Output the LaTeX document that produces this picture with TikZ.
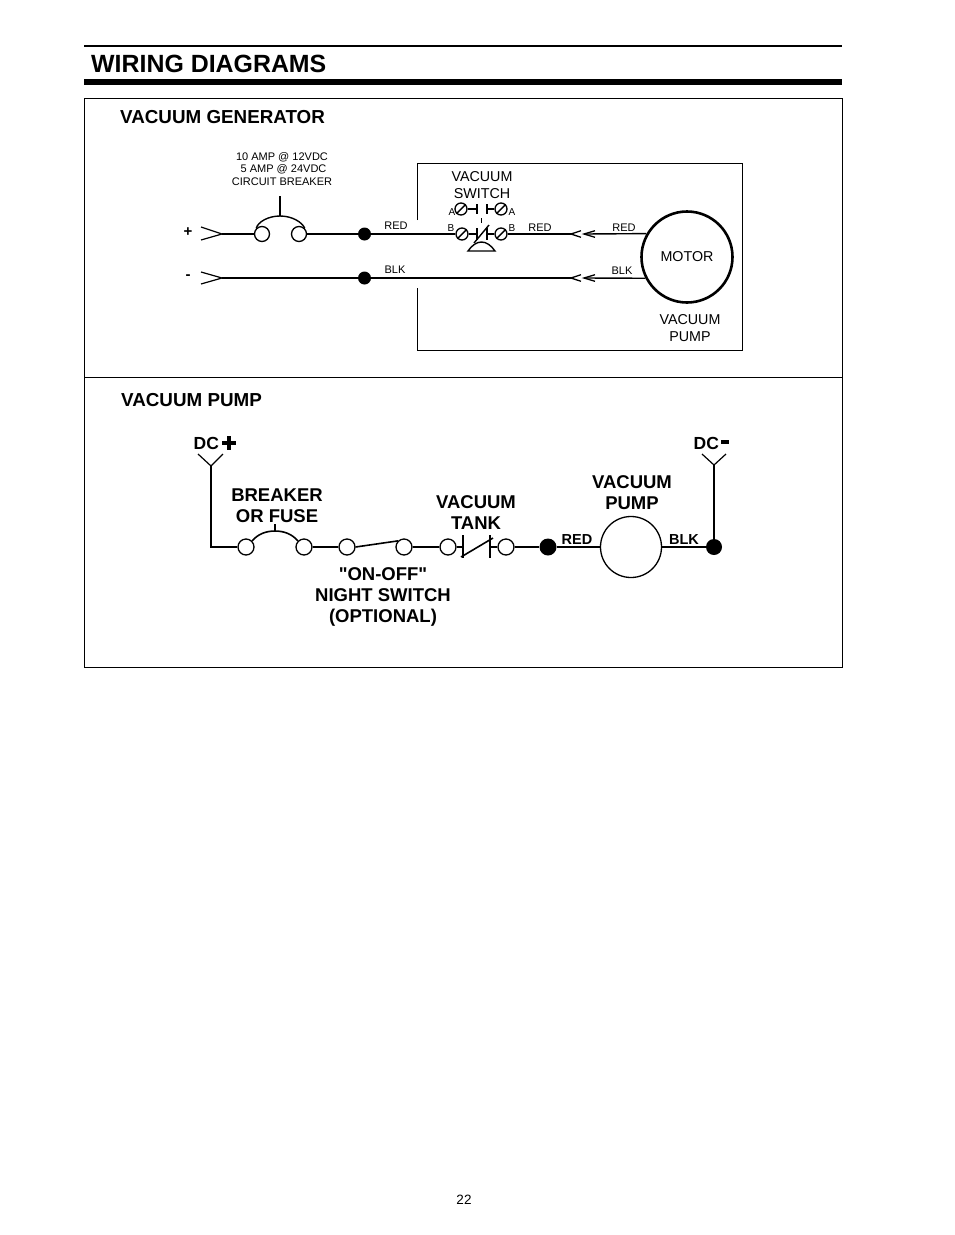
\documentclass[tikz,border=0pt]{standalone}
\usepackage{fontspec}
\setmainfont{Liberation Sans}
\usetikzlibrary{positioning}
\tikzset{
	terminal/.style={circle, draw, fill=white, inner sep=0pt, minimum size=15pt, line width=1.3pt},
	screwterm/.style={circle, draw, fill=white, inner sep=0pt, minimum size=12pt, line width=1.3pt},
	junction/.style={circle, fill=black, inner sep=0pt, minimum size=#1},
	smalltext/.style={font=\fontsize{11}{12.6}\selectfont, align=center, inner sep=0pt},
	midtext/.style={font=\fontsize{14.3}{17}\selectfont, align=center, inner sep=0pt},
	headtext/.style={font=\bfseries\fontsize{18.8}{21}\selectfont, inner sep=0pt, anchor=west},
	boldtext/.style={font=\bfseries\fontsize{18.5}{21}\selectfont, align=center, inner sep=0pt},
	wire/.style={line width=1.4pt}
}

\begin{document}
\begin{tikzpicture}[x=1pt, y=-1pt]
	\useasboundingbox (0,0) rectangle (954,1235);

	% page heading
	\begin{scope}
		\draw [line width=1.5pt] (84,46) -- (842,46);
		\fill (84,79) rectangle (842,85);
		\node (title) [anchor=west, inner sep=0pt, font=\bfseries\fontsize{24.9}{28}\selectfont] at (91,63.5) {WIRING DIAGRAMS};
		\draw [line width=1pt] (84.5,98) rectangle (842.5,667.5);
		\draw [line width=1pt] (84.5,377.5) -- (842.5,377.5);
		\node (pagenum) [inner sep=0pt, font=\fontsize{13.5}{15}\selectfont] at (464,1199.5) {22};
	\end{scope}

	% vacuum generator
	\node (genhead) [headtext] at (120,117) {VACUUM GENERATOR};
	\node (cbtext) [smalltext] at (282,169) {10 AMP @ 12VDC\\ \;5 AMP @ 24VDC\\CIRCUIT BREAKER};
	\node (plus) [inner sep=0pt, font=\bfseries\fontsize{15}{16}\selectfont] at (188,232) {+};
	\node (minus) [inner sep=0pt, font=\bfseries\fontsize{15}{16}\selectfont] at (188,277) {-};

	\coordinate (plusin) at (222,234);
	\coordinate (minusin) at (222,278);
	\draw [line width=1.2pt] (201,227) -- (plusin) -- (201,240);
	\draw [line width=1.2pt] (201,272) -- (minusin) -- (201,284);

	\node (cbleft) [terminal] at (262,234) {};
	\node (cbright) [terminal] at (299,234) {};
	\node (redjoint) [junction=13pt] at (364.5,234) {};
	\node (blkjoint) [junction=13pt] at (364.5,278) {};
	\coordinate (cbtop) at (280,216);
	\coordinate (cbstem) at (280,196);
	\draw [wire] (cbleft.north west) .. controls (258,222) and (268,216) .. (cbtop)
		.. controls (292,216) and (302,222) .. (cbright.north east);
	\draw [wire] (cbtop) -- (cbstem);
	\draw [wire] (plusin) -- (cbleft);
	\draw [wire] (cbright) -- (redjoint);
	\draw [wire] (minusin) -- (blkjoint);

	% pump housing
	\draw [line width=1pt] (417,220) -- (417,163) -- (742,163) -- (742,350) -- (417,350) -- (417,288);

	% vacuum switch
	\node (swtext) [midtext] at (482,185) {VACUUM\\SWITCH};
	\foreach \name/\xx/\yy in {termAl/461/209, termAr/501/209, termBl/462/234, termBr/501/234}
	{
		\node (\name) [screwterm] at (\xx,\yy) {};
		\draw [wire] (\name.south west) -- (\name.north east);
	}
	\coordinate (stubAl) at (477,209);
	\coordinate (stubAr) at (487,209);
	\draw [wire] (termAl) -- (stubAl);
	\draw [wire] (termAr) -- (stubAr);
	\draw [wire] (477,204) -- (477,214);
	\draw [wire] (487,204) -- (487,214);
	\draw [wire] (481.5,218) -- (481.5,223);
	\coordinate (stubBl) at (477,234);
	\coordinate (stubBr) at (487,234);
	\draw [wire] (termBl) -- (stubBl);
	\draw [wire] (termBr) -- (stubBr);
	\draw [wire] (477,228) -- (477,240);
	\draw [wire] (487,228) -- (487,240);
	\draw [wire] (474,243) -- (489,225);
	\draw [wire, fill=white] (468,251) .. controls (472,245) and (477,242) .. (481.5,242)
		.. controls (486,242) and (491,245) .. (495,251) -- cycle;
	\foreach \name/\xx/\yy/\txt in {lblAl/452/212/A, lblAr/512/212/A, lblBl/451/228/B, lblBr/512/228/B}
	{
		\node (\name) [inner sep=0pt, font=\fontsize{10}{11}\selectfont] at (\xx,\yy) {\txt};
	}

	% motor and plugs
	\node (motor) [circle, draw, inner sep=0pt, minimum size=91pt, line width=2.6pt, midtext] at (687,257) {MOTOR};
	\node (pumptext) [midtext] at (690,328) {VACUUM\\PUMP};
	\foreach \yy/\name in {234/red, 278/blk}
	{
		\coordinate (\name plugl) at (571,\yy);
		\coordinate (\name plugr) at (584,\yy);
		\draw [line width=1.3pt] (581,\yy-3.3) -- (\name plugl) -- (581,\yy+3.3);
		\draw [line width=1.3pt] (595,\yy-3.3) -- (\name plugr) -- (595,\yy+3.3);
	}
	\draw [wire] (redjoint) -- (termBl);
	\draw [wire] (termBr) -- (redplugl);
	\draw [wire] (redplugr) -- (motor.150);
	\draw [wire] (blkjoint) -- (blkplugl);
	\draw [wire] (blkplugr) -- (motor.207);
	\foreach \name/\xx/\yy/\txt in {lblred/396/226/RED, lblredb/540/228/RED, lblredc/624/228/RED, lblblk/395/270/BLK, lblblkb/622/271/BLK}
	{
		\node (\name) [smalltext] at (\xx,\yy) {\txt};
	}

	% vacuum pump
	\node (pumphead) [headtext] at (121,400) {VACUUM PUMP};
	\node (dcplus) [inner sep=0pt, anchor=west, font=\bfseries\fontsize{17.5}{20}\selectfont] at (193.5,443) {DC};
	\node (dcminus) [inner sep=0pt, anchor=west, font=\bfseries\fontsize{17.5}{20}\selectfont] at (693.5,443) {DC};
	\draw [line width=3.2pt] (222,443) -- (236,443);
	\draw [line width=3.2pt] (229,436) -- (229,450);
	\draw [line width=3.2pt] (721,442) -- (729,442);

	\coordinate (plusfork) at (211,466);
	\coordinate (minusfork) at (714,465);
	\coordinate (pluscorner) at (211,547);
	\draw [line width=1.2pt] (198,454) -- (plusfork) -- (223,454);
	\draw [line width=1.2pt] (702,454) -- (minusfork) -- (726,454);

	\foreach \name/\xx in {brkl/246, brkr/304, nsl/347, nsr/404, tankl/448, tankr/506}
	{
		\node (\name) [terminal, minimum size=16pt] at (\xx,547) {};
	}
	\node (redpump) [junction=17pt] at (548,547) {};
	\node (pump) [circle, draw, inner sep=0pt, minimum size=61pt, line width=1.3pt] at (631,547) {};
	\node (blkpump) [junction=16pt] at (714,547) {};

	\draw [line width=1.6pt] (plusfork) -- (pluscorner) -- (brkl);
	\draw [wire] (brkr) -- (nsl);
	\draw [wire] (nsr) -- (tankl);
	\draw [wire] (tankr) -- (redpump);
	\draw [wire] (redpump) -- (pump);
	\draw [wire] (pump) -- (blkpump);
	\draw [line width=1.6pt] (minusfork) -- (blkpump);

	\coordinate (brktop) at (275,531);
	\draw [line width=1.6pt] (brkl.north east) .. controls (258,534) and (266,531) .. (brktop)
		.. controls (284,531) and (292,534) .. (brkr.north west);
	\draw [line width=1.6pt] (brktop) -- (275,524);
	\draw [line width=1.6pt] (nsl.east) -- (nsr.north west);

	\coordinate (tankbarl) at (463,547);
	\coordinate (tankbarr) at (490,547);
	\draw [wire] (tankl) -- (tankbarl);
	\draw [wire] (tankr) -- (tankbarr);
	\draw [line width=1.6pt] (463,535) -- (463,558);
	\draw [line width=1.6pt] (490,535) -- (490,558);
	\draw [line width=1.6pt] (461,557) -- (493,538);

	\node (brktext) [boldtext] at (277,505.5) {BREAKER\\OR FUSE};
	\node (tanktext) [boldtext] at (476,512.5) {VACUUM\\TANK};
	\node (pumplabel) [boldtext] at (632,492.5) {VACUUM\\PUMP};
	\node (nstext) [boldtext] at (383,597) {\textquotedbl ON-OFF\textquotedbl\\NIGHT SWITCH\\(OPTIONAL)};
	\node (redtext) [inner sep=0pt, font=\bfseries\fontsize{14.5}{16}\selectfont] at (577,540) {RED};
	\node (blktext) [inner sep=0pt, font=\bfseries\fontsize{14.5}{16}\selectfont] at (684,540) {BLK};
\end{tikzpicture}
\end{document}
